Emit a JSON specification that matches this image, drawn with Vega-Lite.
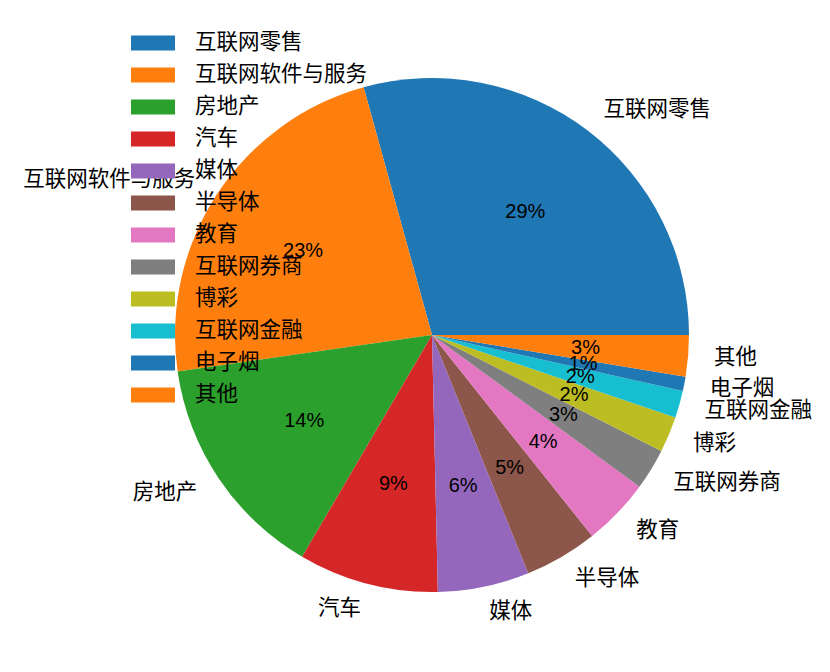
{
  "$schema": "https://vega.github.io/schema/vega-lite/v6.json",
  "width": 796,
  "height": 670,
  "autosize": {"type": "none"},
  "padding": {"left": 34, "top": 0, "right": 0, "bottom": 2},
  "background": "white",
  "data": {
    "values": [
      {"industry": "互联网零售", "share": 0.293},
      {"industry": "互联网软件与服务", "share": 0.23},
      {"industry": "房地产", "share": 0.143},
      {"industry": "汽车", "share": 0.088},
      {"industry": "媒体", "share": 0.0575},
      {"industry": "半导体", "share": 0.046},
      {"industry": "教育", "share": 0.0425},
      {"industry": "互联网券商", "share": 0.026},
      {"industry": "博彩", "share": 0.0225},
      {"industry": "互联网金融", "share": 0.017},
      {"industry": "电子烟", "share": 0.009},
      {"industry": "其他", "share": 0.026}
    ]
  },
  "transform": [
    {"window": [{"op": "row_number", "as": "idx"}]}
  ],
  "encoding": {
    "theta": {
      "field": "share",
      "type": "quantitative",
      "stack": true,
      "scale": {"range": [1.5708, -4.7124]}
    },
    "order": {"field": "idx", "type": "quantitative"}
  },
  "layer": [
    {
      "mark": {"type": "arc", "outerRadius": 257},
      "encoding": {
        "color": {
          "field": "industry",
          "type": "nominal",
          "sort": null,
          "scale": {
            "domain": ["互联网零售", "互联网软件与服务", "房地产", "汽车", "媒体", "半导体", "教育", "互联网券商", "博彩", "互联网金融", "电子烟", "其他"],
            "range": ["#1f77b4", "#ff7f0e", "#2ca02c", "#d62728", "#9467bd", "#8c564b", "#e377c2", "#7f7f7f", "#bcbd22", "#17becf", "#1f77b4", "#ff7f0e"]
          },
          "legend": {
            "orient": "none",
            "legendX": 97,
            "legendY": 27,
            "title": null,
            "padding": 0,
            "symbolType": "M-1,-0.34H1V0.34H-1Z",
            "symbolSize": 1936,
            "symbolStrokeWidth": 0,
            "symbolOpacity": 1,
            "clipHeight": 32,
            "rowPadding": 0,
            "labelOffset": 20,
            "labelFont": "Noto Sans CJK SC",
            "labelFontSize": 21.5,
            "labelColor": "black",
            "labelLimit": 400
          }
        }
      }
    },
    {
      "mark": {"type": "text", "radius": 154, "font": "Liberation Sans", "fontSize": 20, "color": "black"},
      "encoding": {
        "text": {"field": "share", "type": "quantitative", "format": ".0%"}
      }
    },
    {
      "mark": {"type": "text", "radius": 283, "align": "left", "baseline": "middle", "font": "Noto Sans CJK SC", "fontSize": 21.5, "color": "black"},
      "encoding": {
        "text": {
          "condition": {"test": "indexof(['互联网软件与服务', '房地产', '汽车'], datum.industry) < 0", "field": "industry"},
          "value": ""
        }
      }
    },
    {
      "mark": {"type": "text", "radius": 283, "align": "right", "baseline": "middle", "font": "Noto Sans CJK SC", "fontSize": 21.5, "color": "black"},
      "encoding": {
        "text": {
          "condition": {"test": "indexof(['互联网软件与服务', '房地产', '汽车'], datum.industry) >= 0", "field": "industry"},
          "value": ""
        }
      }
    }
  ]
}
